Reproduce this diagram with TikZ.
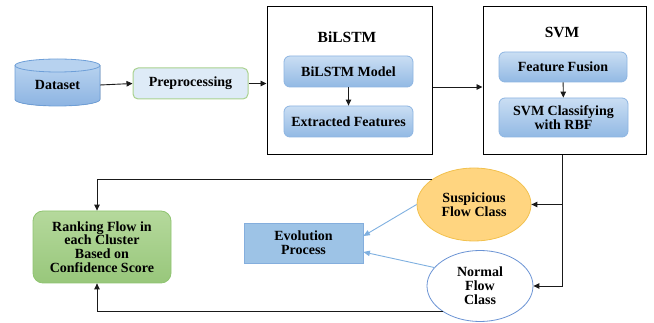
\documentclass[tikz,border=0pt]{standalone}
\usepackage{fontspec}
\setmainfont{Liberation Serif}
\usetikzlibrary{shapes.geometric,arrows.meta}

\definecolor{cylTop}{HTML}{B7D2EF}
\definecolor{cylBot}{HTML}{8DB4E2}
\definecolor{cylEdge}{HTML}{6E9FD8}
\definecolor{boxTop}{HTML}{CADEF3}
\definecolor{boxBot}{HTML}{92B9E4}
\definecolor{boxEdge}{HTML}{8DB5E2}
\definecolor{preFill}{HTML}{DEEBF7}
\definecolor{preEdge}{HTML}{A9D18E}
\definecolor{rankTop}{HTML}{B5D99C}
\definecolor{rankBot}{HTML}{98C77B}
\definecolor{rankEdge}{HTML}{8FC470}
\definecolor{suspFill}{HTML}{FFD580}
\definecolor{suspEdge}{HTML}{F2C14E}
\definecolor{normEdge}{HTML}{6A93D4}
\definecolor{evoFill}{HTML}{9DC3E6}
\definecolor{evoEdge}{HTML}{84AEDD}
\definecolor{softArrow}{HTML}{7FB0E0}
\definecolor{lineGray}{HTML}{1A1A1A}

\tikzset{
  txt/.style={font=\fontsize{14}{13.8}\selectfont\bfseries, text=black, align=center, inner sep=0pt},
  title/.style={font=\fontsize{15.5}{16}\selectfont\bfseries, inner sep=0pt},
  outerbox/.style={draw=black, line width=1pt, fill=white},
  bluebox/.style={txt, rounded corners=6pt, top color=boxTop, bottom color=boxBot, draw=boxEdge, line width=0.8pt},
  arr/.style={draw=lineGray, line width=0.9pt, -{Triangle[length=6pt,width=5.5pt]}},
  softarr/.style={draw=softArrow, line width=0.9pt, -{Triangle[length=6.5pt,width=5.5pt]}},
}

\begin{document}
\begin{tikzpicture}[x=1pt,y=-1pt]
\useasboundingbox (0,0) rectangle (654,323);

% dataset cylinder
\fill[top color=cylTop, bottom color=cylBot] (15,65.5) -- (15,99.5)
  arc[start angle=180, end angle=360, x radius=42.5pt, y radius=6.5pt] -- (100,65.5) -- cycle;
\draw[cylEdge, line width=0.8pt] (15,65.5) -- (15,99.5)
  arc[start angle=180, end angle=360, x radius=42.5pt, y radius=6.5pt] -- (100,65.5);
\draw[cylEdge, line width=0.8pt, fill=cylTop] (57.5,65.5) ellipse [x radius=42.5pt, y radius=6.5pt];
\node[txt, minimum width=85pt, minimum height=34pt] (dataset) at (57.5,85) {Dataset};

% preprocessing
\node[txt, rounded corners=5pt, fill=preFill, draw=preEdge, line width=1pt,
      minimum width=115pt, minimum height=31pt] (pre) at (190.5,83.5) {Preprocessing};

% BiLSTM stage
\node[outerbox, minimum width=165pt, minimum height=148pt] (bilstm) at (349.5,81) {};
\node[title] (bilstmT) at (347,37) {BiLSTM};
\node[bluebox, minimum width=129pt, minimum height=31pt] (bmodel) at (348.5,71.5) {BiLSTM Model};
\node[bluebox, minimum width=129pt, minimum height=31pt] (efeat) at (348.5,121.5) {Extracted Features};

% SVM stage
\node[outerbox, minimum width=163pt, minimum height=148pt] (svm) at (564.5,81) {};
\node[title] (svmT) at (562,32.5) {SVM};
\node[bluebox, minimum width=128pt, minimum height=30pt] (fusion) at (563,67) {Feature Fusion};
\node[bluebox, minimum width=129pt, minimum height=39pt] (svmcls) at (563.5,117.5) {SVM Classifying\\with RBF};

% results
\node[txt, ellipse, fill=suspFill, draw=suspEdge, line width=0.8pt,
      minimum width=114pt, minimum height=73pt] (susp) at (474,204.5) {Suspicious\\Flow Class};
\node[txt, ellipse, fill=white, draw=normEdge, line width=0.8pt,
      minimum width=106pt, minimum height=71pt] (norm) at (480,286) {Normal\\Flow\\Class};
\node[txt, fill=evoFill, draw=evoEdge, line width=0.8pt,
      minimum width=119pt, minimum height=40pt] (evo) at (303.5,243) {Evolution\\Process};
\node[txt, rounded corners=10pt, top color=rankTop, bottom color=rankBot, draw=rankEdge, line width=0.8pt,
      minimum width=138pt, minimum height=72pt] (rank) at (102,247) {Ranking Flow in\\each Cluster\\Based on\\Confidence Score};

% main pipeline
\draw[arr] (dataset.east) -- (pre.west);
\draw[arr] (pre.east) -- (bilstm.west |- pre.east);
\draw[arr] (bmodel) -- (efeat);
\draw[arr] ([yshift=-6pt]bilstm.east) -- ([yshift=-6pt]svm.west);
\draw[arr] (fusion) -- (svmcls);

% classification outputs
\coordinate (tap) at (562,155);
\draw[arr] (tap) |- (susp.east);
\draw[arr] (tap) |- (norm.east);

% towards evolution
\draw[softarr] (susp.west) -- ([yshift=7pt]evo.east);
\draw[softarr] (norm.158) -- ([yshift=-9pt]evo.east);

% feedback to ranking
\coordinate (fbx) at (97,0);
\draw[arr] (susp.149) -- (fbx |- susp.149) -- (fbx |- rank.north);
\draw[arr] (norm.215) -- (fbx |- norm.215) -- (fbx |- rank.south);
\end{tikzpicture}
\end{document}
